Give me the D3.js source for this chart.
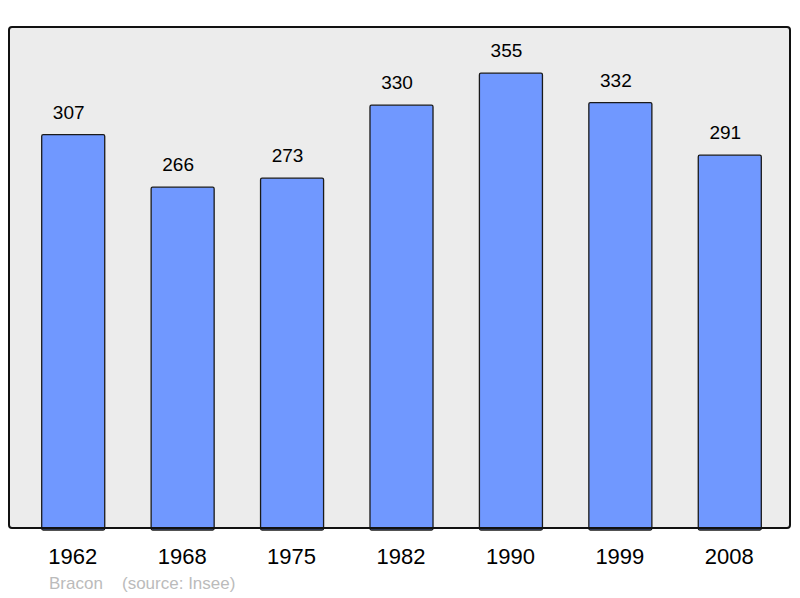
<!DOCTYPE html>
<html>
<head>
<meta charset="utf-8">
<script src="https://cdn.jsdelivr.net/npm/d3@7"></script>
<style>
  body { margin: 0; background: #fff; }
  svg { display: block; font-family: "Liberation Sans", Arial, sans-serif; }
</style>
</head>
<body>
<div id="wrapper"></div>
<script>
const years = ["1962", "1968", "1975", "1982", "1990", "1999", "2008"];
const population = [307, 266, 273, 330, 355, 332, 291];
const commune = "Bracon";
const source = "(source: Insee)";

function drawBars() {
    const dimensions = {
        width: 800,
        height: 598,
        panel: { left: 9, top: 27, right: 790, bottom: 528 }
    };

    const svg = d3.select("#wrapper")
        .append("svg")
        .attr("width", dimensions.width)
        .attr("height", dimensions.height);

    // grey background frame
    svg.append("rect")
        .attr("x", dimensions.panel.left)
        .attr("y", dimensions.panel.top)
        .attr("width", dimensions.panel.right - dimensions.panel.left)
        .attr("height", dimensions.panel.bottom - dimensions.panel.top)
        .attr("rx", 3)
        .attr("fill", "#ececec");

    const x_scale = d3.scaleBand()
        .domain(years)
        .range([18.5, 784.5])
        .paddingInner(0.424)
        .paddingOuter(0.212);

    const y_scale = d3.scaleLinear()
        .domain([0, 391])
        .range([dimensions.panel.bottom, dimensions.panel.top]);

    const data = years.map((y, i) => ({ year: y, value: population[i] }));

    svg.append("g")
        .selectAll("rect")
        .data(data)
        .join("rect")
        .attr("x", d => x_scale(d.year))
        .attr("y", d => y_scale(d.value))
        .attr("width", x_scale.bandwidth())
        .attr("height", d => y_scale(0) - y_scale(d.value) + 2)
        .attr("rx", 1.5)
        .attr("fill", "#7098ff")
        .attr("stroke", "#1a1a1a")
        .attr("stroke-width", 1.3);

    // value labels (sit a little left of bar centre)
    svg.append("g")
        .selectAll("text")
        .data(data)
        .join("text")
        .attr("x", d => x_scale(d.year) + x_scale.bandwidth() / 2 - 4.5)
        .attr("y", d => y_scale(d.value) - 16)
        .attr("text-anchor", "middle")
        .attr("font-size", 19)
        .attr("fill", "#000")
        .text(d => d.value);

    // frame border drawn on top
    svg.append("rect")
        .attr("x", dimensions.panel.left)
        .attr("y", dimensions.panel.top)
        .attr("width", dimensions.panel.right - dimensions.panel.left)
        .attr("height", dimensions.panel.bottom - dimensions.panel.top)
        .attr("rx", 3)
        .attr("fill", "none")
        .attr("stroke", "#111")
        .attr("stroke-width", 2);

    // year axis
    const x_axis_gen = d3.axisBottom(x_scale).tickSize(0).tickPadding(0);
    const x_axis = svg.append("g")
        .attr("transform", `translate(0, ${dimensions.panel.bottom})`)
        .call(x_axis_gen);
    x_axis.select(".domain").remove();
    x_axis.selectAll("text")
        .attr("dy", null)
        .attr("x", -0.5)
        .attr("y", 36)
        .attr("font-size", 22)
        .attr("font-family", "Liberation Sans, Arial, sans-serif")
        .attr("fill", "#000");

    svg.append("text")
        .attr("x", 49)
        .attr("y", 589)
        .attr("font-size", 17)
        .attr("fill", "#bbb")
        .text(commune);

    svg.append("text")
        .attr("x", 122)
        .attr("y", 589)
        .attr("font-size", 17)
        .attr("fill", "#bbb")
        .text(source);
}

drawBars();
</script>
</body>
</html>
